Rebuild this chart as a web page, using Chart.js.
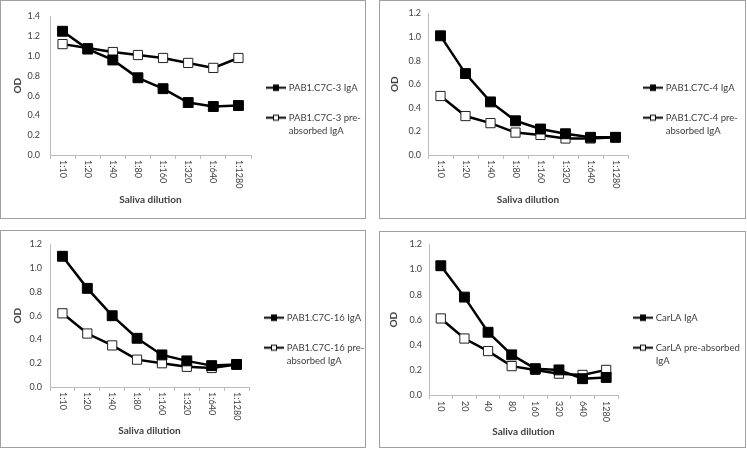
<!DOCTYPE html>
<html>
<head>
<meta charset="utf-8">
<script src="https://cdn.jsdelivr.net/npm/chart.js@4.4.1/dist/chart.umd.min.js"></script>
<style>
  body { margin: 0; background: #fff; width: 747px; height: 450px; position: relative; overflow: hidden; }
  .panel { position: absolute; border: 1px solid #a0a0a0; box-sizing: border-box; background: #fff; }
  .panel canvas { position: absolute; left: 0; top: 0; }
</style>
</head>
<body>
<div class="panel" style="left:0;top:0;width:366px;height:219px"><canvas id="c1" width="364" height="217"></canvas></div>
<div class="panel" style="left:379px;top:0;width:367px;height:219px"><canvas id="c2" width="365" height="217"></canvas></div>
<div class="panel" style="left:0;top:230px;width:366px;height:218px"><canvas id="c3" width="364" height="216"></canvas></div>
<div class="panel" style="left:379px;top:231px;width:367px;height:217px"><canvas id="c4" width="365" height="215"></canvas></div>
<script>
// dilutions
const dilLabels = ['1:10', '1:20', '1:40', '1:80', '1:160', '1:320', '1:640', '1:1280'];
const dilNumbers = ['10', '20', '40', '80', '160', '320', '640', '1280'];

// OD values
const c3IgA = [1.25, 1.07, 0.96, 0.78, 0.67, 0.53, 0.49, 0.50];
const c3Pre = [1.12, 1.08, 1.04, 1.01, 0.98, 0.93, 0.88, 0.98];
const c4IgA = [1.01, 0.69, 0.45, 0.29, 0.22, 0.18, 0.15, 0.15];
const c4Pre = [0.50, 0.33, 0.27, 0.19, 0.17, 0.14, 0.14, 0.15];
const c16IgA = [1.10, 0.83, 0.60, 0.41, 0.27, 0.22, 0.18, 0.19];
const c16Pre = [0.62, 0.45, 0.35, 0.23, 0.20, 0.17, 0.16, 0.19];
const carIgA = [1.03, 0.78, 0.50, 0.32, 0.21, 0.20, 0.13, 0.14];
const carPre = [0.61, 0.45, 0.35, 0.23, 0.20, 0.17, 0.16, 0.20];

// legend names (one entry per line)
const c3Names = [['PAB1.C7C-3 IgA'], ['PAB1.C7C-3 pre-', 'absorbed IgA']];
const c4Names = [['PAB1.C7C-4 IgA'], ['PAB1.C7C-4 pre-', 'absorbed IgA']];
const c16Names = [['PAB1.C7C-16 IgA'], ['PAB1.C7C-16 pre-', 'absorbed IgA']];
const carNames = [['CarLA IgA'], ['CarLA pre-absorbed', 'IgA']];

const FONT = 'Lato, "Open Sans", sans-serif';
const FS = 9;
const TEXT = '#404040';
const AXIS = '#bdbdbd';

function legendMark(filled) {
  const c = document.createElement('canvas');
  c.width = 20; c.height = 9;
  const g = c.getContext('2d');
  g.strokeStyle = '#000'; g.lineWidth = 2;
  g.beginPath(); g.moveTo(0, 4.5); g.lineTo(20, 4.5); g.stroke();
  g.fillStyle = filled ? '#000' : '#fff';
  g.fillRect(7, 1.5, 6, 6);
  g.lineWidth = 1;
  g.strokeRect(7.5, 2, 5, 5);
  return c;
}
const markFilled = legendMark(true);
const markOpen = legendMark(false);

// x tick labels read top-to-bottom (rotated +90deg), so draw them here
const xLabels = {
  id: 'xLabels',
  afterDraw(chart, args, opts) {
    const sc = chart.scales.x, ctx = chart.ctx;
    ctx.save();
    ctx.font = FS + 'px ' + FONT;
    ctx.fillStyle = TEXT;
    ctx.textAlign = 'left';
    ctx.textBaseline = 'middle';
    chart.data.labels.forEach((lab, i) => {
      ctx.save();
      ctx.translate(sc.getPixelForValue(i), sc.top + opts.gap);
      ctx.rotate(Math.PI / 2);
      ctx.fillText(lab, 0, 0);
      ctx.restore();
    });
    ctx.restore();
  }
};

// fixed legend width so the plot area lands where Excel put it
const legendBox = {
  id: 'legendBox',
  beforeLayout(chart, args, opts) {
    const lg = chart.legend;
    if (lg && !lg.__fixed) {
      const fit = lg.fit;
      lg.fit = function () { fit.call(this); this.width = opts.width; };
      lg.__fixed = true;
    }
  }
};

function makeChart(id, labels, a, b, names, max, g) {
  const canvas = document.getElementById(id);
  new Chart(canvas, {
    type: 'line',
    data: {
      labels: labels,
      datasets: [
        {
          label: names[0].join(' '), data: a,
          borderColor: '#000', borderWidth: 2.5, tension: 0,
          pointStyle: 'rect', pointRadius: 7, pointBackgroundColor: '#000',
          pointBorderColor: '#000', pointBorderWidth: 1
        },
        {
          label: names[1].join(' '), data: b,
          borderColor: '#000', borderWidth: 2.5, tension: 0,
          pointStyle: 'rect', pointRadius: 6.5, pointBackgroundColor: '#fff',
          pointBorderColor: '#222', pointBorderWidth: 1
        }
      ]
    },
    options: {
      responsive: false,
      animation: false,
      devicePixelRatio: 1,
      layout: { padding: { top: g.top, bottom: g.bottom, left: 0, right: 0 } },
      plugins: {
        tooltip: { enabled: false },
        xLabels: { gap: g.gap },
        legendBox: { width: canvas.width - g.right },
        legend: {
          position: 'right',
          align: 'center',
          labels: {
            usePointStyle: true,
            pointStyleWidth: 16,
            padding: 17,
            color: TEXT,
            font: { family: FONT, size: 9.5, lineHeight: 13 / 9.5 },
            generateLabels(chart) {
              const items = Chart.defaults.plugins.legend.labels.generateLabels(chart);
              items.forEach((it, i) => {
                it.text = names[i];
                it.pointStyle = i === 0 ? markFilled : markOpen;
                it.fontColor = TEXT;
              });
              return items;
            }
          }
        }
      },
      scales: {
        x: {
          type: 'category',
          offset: true,
          grid: { offset: true, drawOnChartArea: false, tickLength: 4, color: AXIS },
          border: { color: AXIS },
          ticks: { display: false },
          title: {
            display: true, text: 'Saliva dilution', color: TEXT,
            font: { family: FONT, size: 10, weight: 'bold' },
            padding: { top: 0, bottom: g.xtb }
          },
          afterFit(s) { s.height = g.xh; }
        },
        y: {
          min: 0, max: max,
          grid: { drawOnChartArea: false, drawTicks: false },
          border: { color: AXIS },
          ticks: {
            stepSize: 0.2, padding: g.ypad, color: TEXT,
            font: { family: FONT, size: FS },
            callback: v => v.toFixed(1)
          },
          title: {
            display: true, text: 'OD', color: TEXT,
            font: { family: FONT, size: 10, weight: 'bold' },
            padding: { top: g.ytp, bottom: 0 }
          },
          afterFit(s) { s.width = g.left; }
        }
      }
    },
    plugins: [xLabels, legendBox]
  });
}

makeChart('c1', dilLabels, c3IgA, c3Pre, c3Names, 1.4,
  { left: 49, right: 250, top: 11, bottom: 8, xh: 55, xtb: 4, ypad: 10, ytp: 11, gap: 5 });
makeChart('c2', dilLabels, c4IgA, c4Pre, c4Names, 1.2,
  { left: 48, right: 248, top: 11, bottom: 8, xh: 55, xtb: 4, ypad: 7, ytp: 9, gap: 5 });
makeChart('c3', dilLabels, c16IgA, c16Pre, c16Names, 1.2,
  { left: 49, right: 248, top: 11, bottom: 7, xh: 53, xtb: 3, ypad: 8, ytp: 11, gap: 5 });
makeChart('c4', dilNumbers, carIgA, carPre, carNames, 1.2,
  { left: 49, right: 238, top: 10, bottom: 7, xh: 45, xtb: 2, ypad: 7, ytp: 8, gap: 6 });
</script>
</body>
</html>
